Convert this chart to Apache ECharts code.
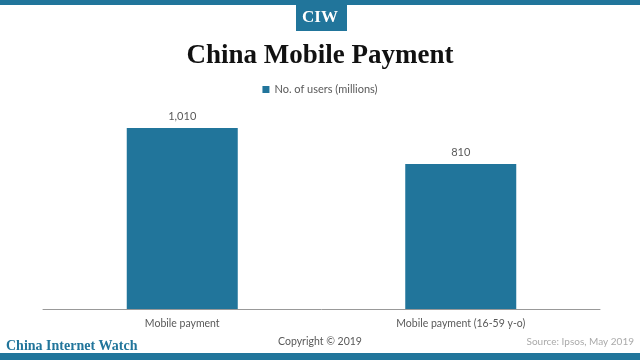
<!DOCTYPE html>
<html><head><meta charset="utf-8">
<script src="https://cdn.jsdelivr.net/npm/echarts@6/dist/echarts.min.js"></script>
<style>html,body{margin:0;padding:0;background:#fff}#c{width:640px;height:360px}</style>
</head><body><div id="c"></div>
<script>
const categories = ['Mobile payment', 'Mobile payment (16-59 y-o)'];
const seriesName = 'No. of users (millions)';
const users = [1010, 810];
const BLUE = '#21759b';
const chart = echarts.init(document.getElementById('c'), null, {renderer: 'canvas'});
chart.setOption({
  animation: false,
  backgroundColor: '#fff',
  title: {
    text: 'China Mobile Payment', left: 'center', top: 38,
    textStyle: {fontFamily: 'Liberation Serif', fontWeight: 'bold', fontSize: 27, color: '#111'}
  },
  legend: {
    top: 79, left: 'center', itemWidth: 7, itemHeight: 7, itemGap: 10,
    icon: 'rect',
    textStyle: {fontFamily: 'Lato', fontSize: 11, color: '#595959'},
    data: [seriesName]
  },
  grid: {left: 43, right: 40, top: 94, bottom: 51},
  xAxis: {
    type: 'category', data: categories,
    axisLine: {lineStyle: {color: '#999', width: 1}},
    axisTick: {show: false},
    axisLabel: {fontFamily: 'Lato', fontSize: 10.5, color: '#595959', margin: 9}
  },
  yAxis: {type: 'value', min: 0, max: 1200, show: false, splitLine: {show: false}},
  series: [{
    name: seriesName, type: 'bar', data: users, barWidth: 111,
    itemStyle: {color: BLUE},
    label: {show: true, position: 'top', distance: 6, fontFamily: 'Lato', fontSize: 11, color: '#595959',
      formatter: p => p.value.toLocaleString('en-US')}
  }],
  graphic: [
    {type: 'rect', left: 0, top: 0, shape: {width: 640, height: 5}, style: {fill: BLUE}},
    {type: 'rect', left: 296, top: 5, shape: {width: 51, height: 26}, style: {fill: BLUE}},
    {type: 'text', left: 'center', top: 9, style: {text: 'CIW', font: 'bold 17px "Liberation Serif"', fill: '#fff'}},
    {type: 'rect', left: 0, top: 353, shape: {width: 640, height: 7}, style: {fill: BLUE}},
    {type: 'text', left: 6, top: 339, style: {text: 'China Internet Watch', font: 'bold 14px "Liberation Serif"', fill: BLUE}},
    {type: 'text', left: 'center', top: 336, style: {text: 'Copyright © 2019', font: '10.5px Lato', fill: '#595959'}},
    {type: 'text', right: 6, top: 337, style: {text: 'Source: Ipsos, May 2019', font: '10px Lato', fill: '#aaa'}}
  ]
});
</script></body></html>
